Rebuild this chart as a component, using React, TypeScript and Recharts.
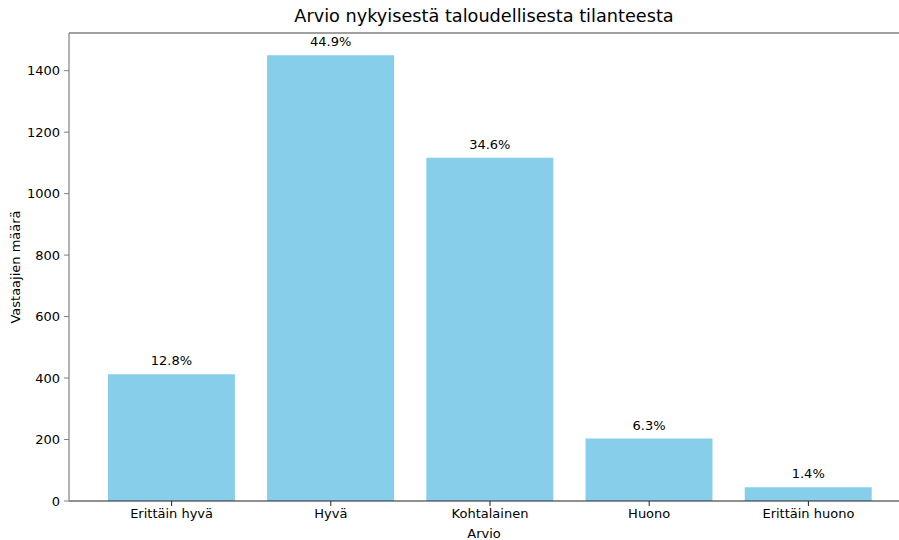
import { BarChart, Bar, XAxis, YAxis, LabelList, ReferenceLine, Label } from "recharts";

const categories = ["Erittäin hyvä", "Hyvä", "Kohtalainen", "Huono", "Erittäin huono"];
const respondents = [412, 1450, 1117, 203, 45];
const yTicks = [0, 200, 400, 600, 800, 1000, 1200, 1400];

const total = respondents.reduce((a, b) => a + b, 0);
const yMax = Math.max(...respondents) * 1.05;

const data = categories.map((name, i) => ({
  name,
  count: respondents[i],
  pct: ((respondents[i] / total) * 100).toFixed(1) + "%",
}));

const FONT = "DejaVu Sans, sans-serif";
const tickStyle = { fontSize: 13, fill: "#000", fontFamily: FONT };

const YLabel = ({ viewBox }: any) => {
  const cy = viewBox.y + viewBox.height / 2;
  return (
    <text
      x={15}
      y={cy}
      transform={`rotate(-90 15 ${cy})`}
      textAnchor="middle"
      dominantBaseline="central"
      fontSize={13}
      fill="#000"
      fontFamily={FONT}
    >
      Vastaajien määrä
    </text>
  );
};

export default function App() {
  return (
    <div style={{ position: "absolute", left: 0, top: 0, width: 899, height: 540, background: "#fff", fontFamily: FONT }}>
      <BarChart
        width={899}
        height={540}
        data={data}
        margin={{ top: 33, right: 0, bottom: 0, left: 0 }}
        barCategoryGap="10%"
      >
        <XAxis
          dataKey="name"
          height={39}
          padding={{ left: 23, right: 11 }}
          tick={tickStyle}
          tickSize={5}
          tickMargin={3}
          axisLine={{ stroke: "#222", strokeWidth: 1.2 }}
          tickLine={{ stroke: "#222" }}
        >
          <Label value="Arvio" position="insideBottom" offset={2} fontSize={13} fill="#000" fontFamily={FONT} />
        </XAxis>
        <YAxis
          width={69}
          domain={[0, yMax]}
          ticks={yTicks}
          allowDataOverflow
          tick={tickStyle}
          tickSize={5}
          tickMargin={4}
          axisLine={{ stroke: "#808080", strokeWidth: 1.2 }}
          tickLine={{ stroke: "#808080" }}
          label={<YLabel />}
        />
        <ReferenceLine y={yMax} stroke="#808080" strokeWidth={1.5} ifOverflow="visible">
          <Label
            value="Arvio nykyisestä taloudellisesta tilanteesta"
            position="top"
            offset={11}
            fontSize={17.7}
            fill="#000"
            fontFamily={FONT}
          />
        </ReferenceLine>
        <Bar dataKey="count" fill="#87CEEB" isAnimationActive={false}>
          <LabelList dataKey="pct" position="top" offset={9} fontSize={13} fill="#000" fontFamily={FONT} />
        </Bar>
      </BarChart>
    </div>
  );
}
